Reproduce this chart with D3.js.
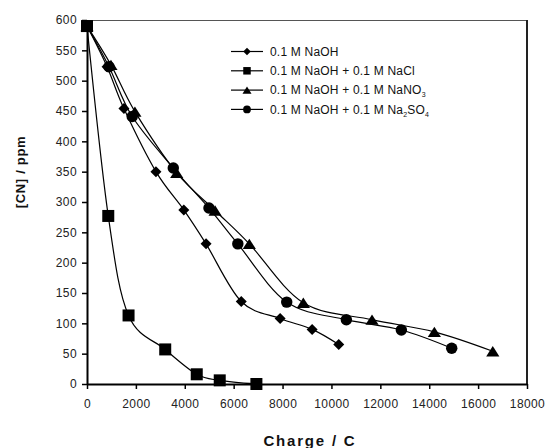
<!DOCTYPE html>
<html>
<head>
<meta charset="utf-8">
<script src="https://cdn.jsdelivr.net/npm/d3@7"></script>
<style>
  html, body { margin: 0; padding: 0; background: #fff; }
  svg { display: block; font-family: "Liberation Sans", Arial, sans-serif; }
</style>
</head>
<body>
<svg id="chart" width="548" height="448"></svg>
<script>
// Charge (C) and cyanide concentration (ppm) for each electrolyte
const naohCharge   = [0, 820, 1510, 2820, 3960, 4870, 6310, 7900, 9210, 10300];
const naohCN       = [590, 523, 454, 350, 287, 231, 136, 108, 90, 65];

const naclCharge   = [0, 870, 1700, 3200, 4490, 5430, 6930];
const naclCN       = [590, 277, 113, 57, 16, 6, 0];

const nano3Charge  = [0, 980, 1960, 3670, 5240, 6640, 8850, 11660, 14210, 16600];
const nano3CN      = [590, 526, 449, 348, 286, 231, 134, 106, 86, 54];

const na2so4Charge = [0, 900, 1850, 3530, 4990, 6170, 8170, 10610, 12860, 14920];
const na2so4CN     = [590, 523, 441, 356, 290, 231, 135, 106, 89, 59];

const xTicks = [0, 2000, 4000, 6000, 8000, 10000, 12000, 14000, 16000, 18000];
const yTicks = [0, 50, 100, 150, 200, 250, 300, 350, 400, 450, 500, 550, 600];

const seriesNames = ["0.1 M NaOH", "0.1 M NaOH + 0.1 M NaCl", "0.1 M NaOH + 0.1 M NaNO3", "0.1 M NaOH + 0.1 M Na2SO4"];
const symbols = ["diamond", "square", "triangle", "circle"];

const series = [
  { name: seriesNames[0], symbol: symbols[0], xs: naohCharge, ys: naohCN },
  { name: seriesNames[1], symbol: symbols[1], xs: naclCharge, ys: naclCN },
  { name: seriesNames[2], symbol: symbols[2], xs: nano3Charge, ys: nano3CN },
  { name: seriesNames[3], symbol: symbols[3], xs: na2so4Charge, ys: na2so4CN }
];

const svg = d3.select("#chart");
const plotLeft = 87, plotRight = 527, plotTop = 20, plotBottom = 384;

const x = d3.scaleLinear().domain([0, 18000]).range([plotLeft, plotRight]);
const y = d3.scaleLinear().domain([0, 600]).range([plotBottom, plotTop]);

// Frame: thin top edge, heavier right edge
svg.append("line").attr("x1", plotLeft).attr("x2", plotRight).attr("y1", plotTop + 0.5).attr("y2", plotTop + 0.5)
  .attr("stroke", "#555").attr("stroke-width", 1.2);
svg.append("line").attr("x1", plotRight).attr("x2", plotRight).attr("y1", plotTop).attr("y2", plotBottom)
  .attr("stroke", "#222").attr("stroke-width", 2);

// Axes
const xAxis = d3.axisBottom(x).tickValues(xTicks).tickSize(5).tickSizeOuter(0).tickPadding(10)
  .tickFormat(d3.format("d"));
const yAxis = d3.axisLeft(y).tickValues(yTicks).tickSize(5).tickSizeOuter(0).tickPadding(5)
  .tickFormat(d3.format("d"));

const gx = svg.append("g").attr("transform", `translate(0,${plotBottom})`).call(xAxis);
const gy = svg.append("g").attr("transform", `translate(${plotLeft},0)`).call(yAxis);

[gx, gy].forEach(g => {
  g.select(".domain").attr("stroke", "#000").attr("stroke-width", 2);
  g.selectAll(".tick line").attr("stroke", "#000").attr("stroke-width", 1.5);
  g.selectAll(".tick text").attr("fill", "#222").attr("font-size", 12)
    .attr("letter-spacing", 0.4)
    .attr("font-family", "'Liberation Sans', Arial, sans-serif");
});

// Axis titles
svg.append("text").attr("x", 310).attr("y", 446).attr("text-anchor", "middle")
  .attr("font-weight", "bold").attr("font-size", 15).attr("fill", "#111")
  .attr("letter-spacing", 1.8).text("Charge / C");
svg.append("text").attr("transform", "translate(25,172) rotate(-90)").attr("text-anchor", "middle")
  .attr("font-weight", "bold").attr("font-size", 13).attr("fill", "#111")
  .attr("letter-spacing", 0.7).text("[CN] / ppm");

// Marker shapes
function marker(sel, kind, s) {
  if (kind === "circle") {
    sel.append("circle").attr("r", s * 0.52).attr("fill", "#000");
  } else if (kind === "square") {
    sel.append("rect").attr("x", -s / 2).attr("y", -s / 2).attr("width", s).attr("height", s).attr("fill", "#000");
  } else if (kind === "diamond") {
    const h = s * 0.5;
    sel.append("path").attr("d", `M0,${-h}L${h},0L0,${h}L${-h},0Z`).attr("fill", "#000");
  } else if (kind === "triangle") {
    const w = s * 0.6, h = s * 0.47;
    sel.append("path").attr("d", `M0,${-h}L${w},${h}L${-w},${h}Z`).attr("fill", "#000");
  }
}

const line = d3.line()
  .x(d => x(d[0]))
  .y(d => y(d[1]))
  .curve(d3.curveCatmullRom.alpha(0));

const plot = svg.append("g");
series.forEach(s => {
  const pts = s.xs.map((v, i) => [v, s.ys[i]]);
  plot.append("path").datum(pts).attr("d", line)
    .attr("fill", "none").attr("stroke", "#000").attr("stroke-width", 1.2);
});
series.forEach(s => {
  const pts = s.xs.map((v, i) => [v, s.ys[i]]);
  const size = s.symbol === "square" ? 12 : 11;
  pts.forEach(p => {
    const g = plot.append("g").attr("transform", `translate(${x(p[0])},${y(p[1])})`);
    marker(g, s.symbol, size);
  });
});

// Legend
const legend = svg.append("g");
series.forEach((s, i) => {
  const ly = 51.5 + i * 19.3;
  legend.append("line").attr("x1", 231).attr("x2", 263).attr("y1", ly).attr("y2", ly)
    .attr("stroke", "#000").attr("stroke-width", 1.2);
  const g = legend.append("g").attr("transform", `translate(247,${ly})`);
  marker(g, s.symbol, 7.5);
  const t = legend.append("text").attr("x", 270).attr("y", ly + 4.3)
    .attr("font-size", 12).attr("letter-spacing", 0.2).attr("fill", "#111");
  if (i === 2) {
    t.append("tspan").text("0.1 M NaOH + 0.1 M NaNO");
    t.append("tspan").attr("font-size", 7).attr("dy", 3).text("3");
  } else if (i === 3) {
    t.append("tspan").text("0.1 M NaOH + 0.1 M Na");
    t.append("tspan").attr("font-size", 7).attr("dy", 3).text("2");
    t.append("tspan").attr("dy", -3).text("SO");
    t.append("tspan").attr("font-size", 7).attr("dy", 3).text("4");
  } else {
    t.text(s.name);
  }
});
</script>
</body>
</html>
